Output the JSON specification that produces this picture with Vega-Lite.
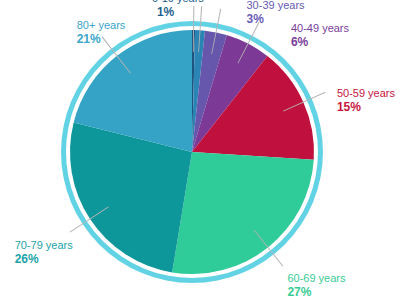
{
  "$schema": "https://vega.github.io/schema/vega-lite/v6.json",
  "autosize": "none",
  "width": 384,
  "height": 296,
  "padding": {"left": 0, "top": 4, "right": 16, "bottom": 0},
  "background": "white",
  "config": {"view": {"stroke": null}, "text": {"font": "Liberation Sans"}},
  "data": {
    "values": [
      {"age": "0-19 years", "value": 0.4, "pct": "1%"},
      {"age": "20-29 years", "value": 1.3, "pct": "1%"},
      {"age": "30-39 years", "value": 2.9, "pct": "3%"},
      {"age": "40-49 years", "value": 6.0, "pct": "6%"},
      {"age": "50-59 years", "value": 15.4, "pct": "15%"},
      {"age": "60-69 years", "value": 26.6, "pct": "27%"},
      {"age": "70-79 years", "value": 26.3, "pct": "26%"},
      {"age": "80+ years", "value": 21.1, "pct": "21%"}
    ]
  },
  "transform": [
    {"window": [{"op": "sum", "field": "value", "as": "cum"}], "frame": [null, 0]},
    {"calculate": "datum.cum - datum.value / 2", "as": "mid"},
    {"calculate": "datum.mid - 0.06", "as": "lo"},
    {"calculate": "datum.mid + 0.06", "as": "hi"}
  ],
  "layer": [
    {
      "mark": {"type": "arc", "outerRadius": 122},
      "encoding": {
        "theta": {"field": "value", "type": "quantitative", "stack": true, "scale": {"domain": [0, 100]}},
        "order": {"field": "cum", "type": "quantitative"},
        "color": {
          "field": "age", "type": "nominal", "legend": null,
          "scale": {
            "domain": ["0-19 years", "20-29 years", "30-39 years", "40-49 years", "50-59 years", "60-69 years", "70-79 years", "80+ years"],
            "range": ["#1d5480", "#2a84b4", "#6657ad", "#7c3a96", "#c0103d", "#2fcb98", "#0e979b", "#35a3c6"]
          }
        }
      }
    },
    {
      "mark": {"type": "arc", "innerRadius": 126, "outerRadius": 131, "color": "#62d3e4"},
      "encoding": {
        "theta": {"aggregate": "sum", "field": "value", "type": "quantitative"}
      }
    },
    {
      "mark": {"type": "arc", "innerRadius": 100, "outerRadius": 146, "color": "#b4b4b4"},
      "encoding": {
        "theta": {"field": "lo", "type": "quantitative"},
        "theta2": {"field": "hi"}
      }
    },
    {
      "transform": [{"filter": "datum.age === '0-19 years'"}],
      "encoding": {"theta": {"field": "mid", "type": "quantitative"}},
      "layer": [
        {"mark": {"type": "text", "radius": 150, "align": "left", "baseline": "alphabetic", "dx": -42, "dy": 0, "fontSize": 11, "color": "#1d5f8f"}, "encoding": {"text": {"field": "age"}}},
        {"mark": {"type": "text", "radius": 150, "align": "left", "baseline": "alphabetic", "dx": -37, "dy": 14, "fontSize": 12, "fontWeight": "bold", "color": "#1d5f8f"}, "encoding": {"text": {"field": "pct"}}}
      ]
    },
    {
      "transform": [{"filter": "datum.age === '20-29 years'"}],
      "encoding": {"theta": {"field": "mid", "type": "quantitative"}},
      "layer": [
        {"mark": {"type": "text", "radius": 150, "align": "left", "baseline": "alphabetic", "dx": 5, "dy": -40, "fontSize": 11, "color": "#2a84b4"}, "encoding": {"text": {"field": "age"}}},
        {"mark": {"type": "text", "radius": 150, "align": "left", "baseline": "alphabetic", "dx": 5, "dy": -26, "fontSize": 12, "fontWeight": "bold", "color": "#2a84b4"}, "encoding": {"text": {"field": "pct"}}}
      ]
    },
    {
      "transform": [{"filter": "datum.age === '30-39 years'"}],
      "encoding": {"theta": {"field": "mid", "type": "quantitative"}},
      "layer": [
        {"mark": {"type": "text", "radius": 150, "align": "left", "baseline": "alphabetic", "dx": 25, "dy": 4, "fontSize": 11, "color": "#6a5bb5"}, "encoding": {"text": {"field": "age"}}},
        {"mark": {"type": "text", "radius": 150, "align": "left", "baseline": "alphabetic", "dx": 25, "dy": 18, "fontSize": 12, "fontWeight": "bold", "color": "#6a5bb5"}, "encoding": {"text": {"field": "pct"}}}
      ]
    },
    {
      "transform": [{"filter": "datum.age === '40-49 years'"}],
      "encoding": {"theta": {"field": "mid", "type": "quantitative"}},
      "layer": [
        {"mark": {"type": "text", "radius": 150, "align": "left", "baseline": "alphabetic", "dx": 30, "dy": 13, "fontSize": 11, "color": "#7a3d9a"}, "encoding": {"text": {"field": "age"}}},
        {"mark": {"type": "text", "radius": 150, "align": "left", "baseline": "alphabetic", "dx": 30, "dy": 27, "fontSize": 12, "fontWeight": "bold", "color": "#7a3d9a"}, "encoding": {"text": {"field": "pct"}}}
      ]
    },
    {
      "transform": [{"filter": "datum.age === '50-59 years'"}],
      "encoding": {"theta": {"field": "mid", "type": "quantitative"}},
      "layer": [
        {"mark": {"type": "text", "radius": 150, "align": "left", "baseline": "alphabetic", "dx": 8, "dy": 6, "fontSize": 11, "color": "#c8133f"}, "encoding": {"text": {"field": "age"}}},
        {"mark": {"type": "text", "radius": 150, "align": "left", "baseline": "alphabetic", "dx": 8, "dy": 20, "fontSize": 12, "fontWeight": "bold", "color": "#c8133f"}, "encoding": {"text": {"field": "pct"}}}
      ]
    },
    {
      "transform": [{"filter": "datum.age === '60-69 years'"}],
      "encoding": {"theta": {"field": "mid", "type": "quantitative"}},
      "layer": [
        {"mark": {"type": "text", "radius": 150, "align": "left", "baseline": "alphabetic", "dx": 2, "dy": 13, "fontSize": 11, "color": "#3acb95"}, "encoding": {"text": {"field": "age"}}},
        {"mark": {"type": "text", "radius": 150, "align": "left", "baseline": "alphabetic", "dx": 2, "dy": 27, "fontSize": 12, "fontWeight": "bold", "color": "#3acb95"}, "encoding": {"text": {"field": "pct"}}}
      ]
    },
    {
      "transform": [{"filter": "datum.age === '70-79 years'"}],
      "encoding": {"theta": {"field": "mid", "type": "quantitative"}},
      "layer": [
        {"mark": {"type": "text", "radius": 150, "align": "left", "baseline": "alphabetic", "dx": -52, "dy": 15, "fontSize": 11, "color": "#1aa3a8"}, "encoding": {"text": {"field": "age"}}},
        {"mark": {"type": "text", "radius": 150, "align": "left", "baseline": "alphabetic", "dx": -52, "dy": 29, "fontSize": 12, "fontWeight": "bold", "color": "#1aa3a8"}, "encoding": {"text": {"field": "pct"}}}
      ]
    },
    {
      "transform": [{"filter": "datum.age === '80+ years'"}],
      "encoding": {"theta": {"field": "mid", "type": "quantitative"}},
      "layer": [
        {"mark": {"type": "text", "radius": 150, "align": "left", "baseline": "alphabetic", "dx": -23, "dy": -5, "fontSize": 11, "color": "#3aa5c9"}, "encoding": {"text": {"field": "age"}}},
        {"mark": {"type": "text", "radius": 150, "align": "left", "baseline": "alphabetic", "dx": -23, "dy": 9, "fontSize": 12, "fontWeight": "bold", "color": "#3aa5c9"}, "encoding": {"text": {"field": "pct"}}}
      ]
    }
  ]
}
